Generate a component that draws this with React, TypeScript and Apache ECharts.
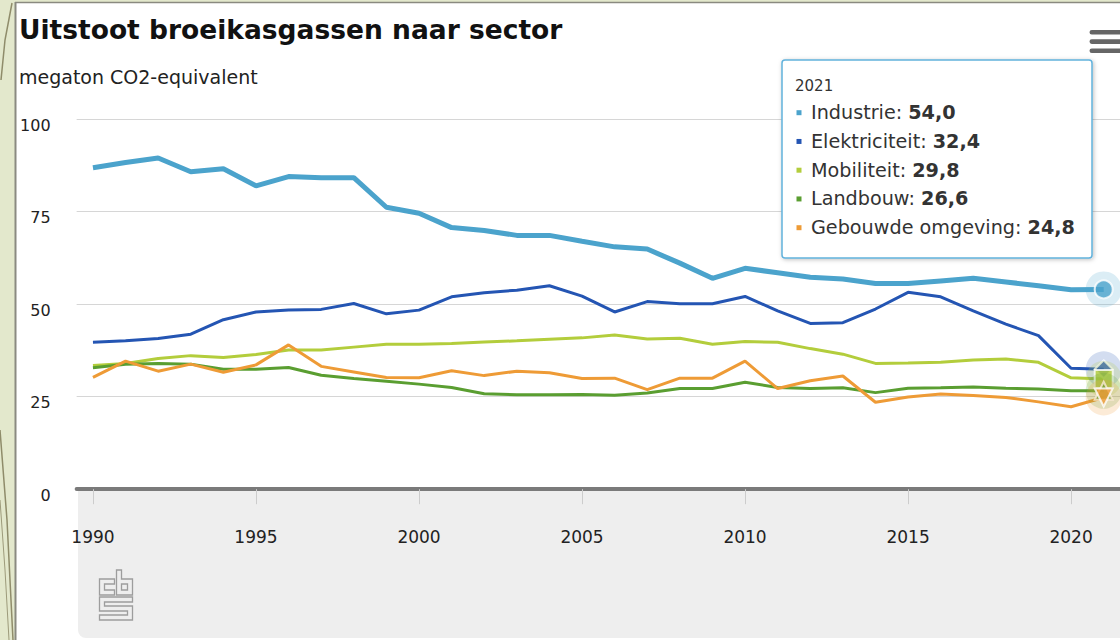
import React, { useEffect, useRef } from "react";
import * as echarts from "echarts";

const years = [
  "1990", "1991", "1992", "1993", "1994", "1995", "1996", "1997", "1998", "1999",
  "2000", "2001", "2002", "2003", "2004", "2005", "2006", "2007", "2008", "2009",
  "2010", "2011", "2012", "2013", "2014", "2015", "2016", "2017", "2018", "2019",
  "2020", "2021",
];
const xTickLabels = ["1990", "1995", "2000", "2005", "2010", "2015", "2020"];

const seriesNames = ["Industrie", "Elektriciteit", "Mobiliteit", "Landbouw", "Gebouwde omgeving"];
const seriesColors = ["#4ba3cc", "#2455b3", "#b3cd3c", "#5a9e31", "#ee9b36"];
const seriesWidths = [5, 3, 3, 3, 3];
const seriesSymbols = ["circle", "diamond", "rect", "triangle", "triangle"];
const seriesRotate = [0, 0, 0, 0, 180];

const industrie = [86.9, 88.3, 89.5, 85.8, 86.6, 82.0, 84.5, 84.2, 84.2, 76.2, 74.6, 70.7, 69.9, 68.6, 68.6, 67.0, 65.5, 64.9, 61.1, 57.0, 59.7, 58.5, 57.3, 56.8, 55.6, 55.6, 56.3, 57.0, 56.0, 55.0, 53.9, 54.0];
const elektriciteit = [39.7, 40.1, 40.7, 41.9, 45.8, 47.9, 48.4, 48.6, 50.2, 47.4, 48.4, 52.0, 53.1, 53.8, 55.0, 52.2, 47.9, 50.7, 50.1, 50.1, 52.1, 48.2, 44.8, 45.0, 48.7, 53.2, 52.0, 48.2, 44.6, 41.5, 32.7, 32.4];
const mobiliteit = [33.4, 34.0, 35.3, 36.1, 35.6, 36.4, 37.6, 37.6, 38.4, 39.2, 39.2, 39.4, 39.8, 40.1, 40.5, 40.9, 41.7, 40.6, 40.8, 39.2, 39.9, 39.7, 38.0, 36.5, 34.0, 34.1, 34.3, 34.9, 35.2, 34.3, 30.1, 29.8];
const landbouw = [32.8, 33.8, 34.0, 33.8, 32.4, 32.4, 32.9, 30.8, 29.9, 29.2, 28.4, 27.5, 25.8, 25.5, 25.5, 25.6, 25.4, 26.0, 27.2, 27.2, 28.9, 27.5, 27.2, 27.4, 26.1, 27.3, 27.4, 27.6, 27.3, 27.1, 26.6, 26.6];
const gebouwdeOmgeving = [30.2, 34.6, 31.9, 33.8, 31.6, 33.6, 39.0, 33.2, 31.7, 30.2, 30.1, 32.0, 30.7, 31.9, 31.5, 29.9, 30.0, 26.9, 30.0, 30.0, 34.6, 27.2, 29.3, 30.6, 23.5, 24.9, 25.7, 25.3, 24.8, 23.6, 22.3, 24.8];

const seriesValues = [industrie, elektriciteit, mobiliteit, landbouw, gebouwdeOmgeving];

const FONT = "DejaVu Sans";
const cbsLogoPath =
  "M0,9 H15 V14 H5 V20 H15 V25 H0 Z " +
  "M17,0 H22 V9 H33 V25 H17 Z M22,14 H28 V20 H22 Z " +
  "M0,27 H33 V32 H5 V36 H33 V50 H0 V45 H28 V41 H0 Z";

function fmt(v: number) {
  return v.toFixed(1).replace(".", ",");
}

function hexA(hex: string, a: number) {
  const r = parseInt(hex.slice(1, 3), 16);
  const g = parseInt(hex.slice(3, 5), 16);
  const b = parseInt(hex.slice(5, 7), 16);
  return `rgba(${r},${g},${b},${a})`;
}

export default function App() {
  const ref = useRef<HTMLDivElement>(null);

  useEffect(() => {
    if (!ref.current) return;
    try {
      echarts.graphic.registerShape("cbslogo", echarts.graphic.extendPath(cbsLogoPath, {}));
    } catch (e) {}
    const chart = echarts.init(ref.current, undefined, { renderer: "svg" });

    const band = 32.69;
    const gridLeft = 93 - band / 2;
    const lastIdx = years.length - 1;
    const lastYear = years[lastIdx];

    const lineSeries: any[] = seriesNames.map((name, i) => ({
      name,
      type: "line",
      data: seriesValues[i],
      symbol: "none",
      lineStyle: { color: seriesColors[i], width: seriesWidths[i] },
      itemStyle: { color: seriesColors[i] },
      z: 2,
    }));

    const markerSeries: any[] = [];
    seriesNames.forEach((name, i) => {
      const v = seriesValues[i][lastIdx];
      markerSeries.push({
        type: "scatter",
        data: [[lastYear, v]],
        symbol: "circle",
        symbolSize: 36,
        itemStyle: { color: hexA(seriesColors[i], 0.25) },
        silent: true,
        z: 3,
      });
      markerSeries.push({
        type: "scatter",
        data: [[lastYear, v]],
        symbol: seriesSymbols[i],
        symbolRotate: seriesRotate[i],
        symbolSize: 18,
        itemStyle: { color: seriesColors[i], borderColor: "#ffffff", borderWidth: 2 },
        silent: true,
        z: 3,
      });
    });

    const tipX = 782;
    const tipY = 60;
    const rowStart = 112.7;
    const rowGap = 28.75;
    const tooltipEls: any[] = [
      {
        type: "rect",
        z: 100,
        shape: { x: tipX, y: tipY, width: 310, height: 198, r: 3 },
        style: {
          fill: "#ffffff",
          stroke: "#62b2dc",
          lineWidth: 1.5,
          shadowBlur: 4,
          shadowColor: "rgba(0,0,0,0.25)",
          shadowOffsetX: 1,
          shadowOffsetY: 1,
        },
      },
      {
        type: "text",
        z: 101,
        x: 795,
        y: 85.7,
        style: { text: lastYear, fontSize: 15, fontFamily: FONT, fill: "#333333", verticalAlign: "middle" },
      },
    ];
    seriesNames.forEach((name, i) => {
      const ry = rowStart + i * rowGap;
      tooltipEls.push({
        type: "rect",
        z: 101,
        shape: { x: 796.5, y: ry - 2.5, width: 5, height: 5 },
        style: { fill: seriesColors[i] },
      });
      tooltipEls.push({
        type: "text",
        z: 101,
        x: 811,
        y: ry,
        style: {
          text: `{n|${name}: }{b|${fmt(seriesValues[i][lastIdx])}}`,
          verticalAlign: "middle",
          rich: {
            n: { fontSize: 19.2, fontFamily: FONT, fill: "#333333" },
            b: { fontSize: 19.2, fontFamily: FONT, fontWeight: "bold", fill: "#333333" },
          },
        },
      });
    });

    const decoEls: any[] = [
      { type: "rect", z: -10, shape: { x: 0, y: 0, width: 1120, height: 3 }, style: { fill: "#e3e8cc" } },
      { type: "rect", z: -10, shape: { x: 0, y: 0, width: 15, height: 640 }, style: { fill: "#e3e8cc" } },
      { type: "line", z: -9, shape: { x1: 15, y1: 2.5, x2: 1120, y2: 2.5 }, style: { stroke: "#8a8a80", lineWidth: 1.5 } },
      { type: "line", z: -9, shape: { x1: 15.5, y1: 2, x2: 15.5, y2: 640 }, style: { stroke: "#8a8a80", lineWidth: 2 } },
      { type: "polyline", z: -9, shape: { points: [[1, 80], [5, 40], [12, 3]] }, style: { stroke: "#8f8c6a", lineWidth: 1.5, fill: "none" } },
      { type: "polyline", z: -9, shape: { points: [[0, 430], [7, 520], [13, 640]] }, style: { stroke: "#8f8c6a", lineWidth: 1.5, fill: "none" } },
      { type: "polyline", z: -9, shape: { points: [[0, 500], [5, 570], [9, 640]] }, style: { stroke: "#9c9a7a", lineWidth: 1, fill: "none" } },
      {
        type: "rect",
        z: -5,
        shape: { x: 78, y: 489, width: 1060, height: 149, r: [0, 0, 0, 8] },
        style: { fill: "#eeeeee" },
      },
      {
        type: "cbslogo",
        z: -4,
        x: 99.5,
        y: 570,
        style: { fill: "none", stroke: "#9d9d9d", lineWidth: 1.3 },
      },
      { type: "rect", z: 5, shape: { x: 1089.5, y: 30, width: 40, height: 4.6, r: 2.3 }, style: { fill: "#666666" } },
      { type: "rect", z: 5, shape: { x: 1089.5, y: 39.3, width: 40, height: 4.6, r: 2.3 }, style: { fill: "#666666" } },
      { type: "rect", z: 5, shape: { x: 1089.5, y: 48.5, width: 40, height: 4.6, r: 2.3 }, style: { fill: "#666666" } },
      {
        type: "text",
        z: 5,
        x: 19,
        y: 29,
        style: {
          text: "Uitstoot broeikasgassen naar sector",
          fontSize: 26.5,
          fontWeight: "bold",
          fontFamily: FONT,
          fill: "#111111",
          verticalAlign: "middle",
        },
      },
      {
        type: "text",
        z: 5,
        x: 19,
        y: 77,
        style: {
          text: "megaton CO2-equivalent",
          fontSize: 19,
          fontFamily: FONT,
          fill: "#222222",
          verticalAlign: "middle",
        },
      },
    ];

    chart.setOption({
      animation: false,
      backgroundColor: "#ffffff",
      grid: { left: gridLeft, top: 119.2, width: band * years.length, height: 370 },
      xAxis: {
        type: "category",
        data: years,
        boundaryGap: true,
        axisLine: { show: true, lineStyle: { color: "#7a7a7a", width: 4 } },
        axisTick: {
          show: true,
          alignWithLabel: true,
          interval: (idx: number, val: string) => xTickLabels.includes(val),
          length: 15,
          lineStyle: { color: "#cccccc", width: 1 },
        },
        axisLabel: {
          interval: (idx: number, val: string) => xTickLabels.includes(val),
          fontSize: 17,
          fontFamily: FONT,
          color: "#222222",
          margin: 39,
        },
        splitLine: { show: false },
      },
      yAxis: {
        type: "value",
        min: 0,
        max: 100,
        interval: 25,
        axisLine: { show: false },
        axisTick: { show: false },
        axisLabel: {
          margin: 26,
          formatter: "{a|{value}}",
          rich: {
            a: {
              fontSize: 16,
              fontFamily: FONT,
              color: "#222222",
              padding: [12, 0, 0, 0],
            },
          },
        },
        splitLine: { show: true, lineStyle: { color: "#d6d6d6", width: 1 } },
      },
      graphic: { elements: [...decoEls, ...tooltipEls] },
      series: [...lineSeries, ...markerSeries],
    });

    return () => {
      chart.dispose();
    };
  }, []);

  return (
    <div
      ref={ref}
      style={{ position: "fixed", left: 0, top: 0, width: 1120, height: 640, overflow: "hidden" }}
    />
  );
}
